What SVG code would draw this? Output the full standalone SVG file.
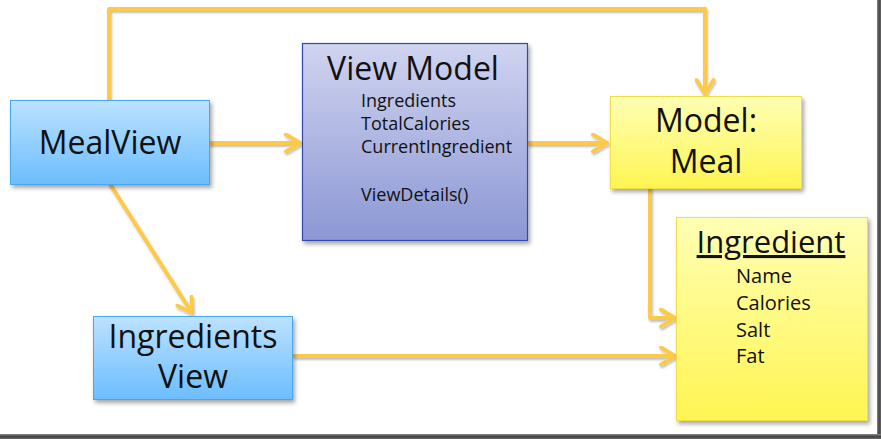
<svg xmlns="http://www.w3.org/2000/svg" width="881" height="439" viewBox="0 0 881 439">
<defs>
<linearGradient id="gBlue" x1="0" y1="0" x2="0" y2="1"><stop offset="0" stop-color="#BCE2FE"/><stop offset="1" stop-color="#6CBDFE"/></linearGradient>
<linearGradient id="gPurple" x1="0" y1="0" x2="0" y2="1"><stop offset="0" stop-color="#D0D4F0"/><stop offset="1" stop-color="#8C97D4"/></linearGradient>
<linearGradient id="gYellow" x1="0" y1="0" x2="0" y2="1"><stop offset="0" stop-color="#FFFFB4"/><stop offset="1" stop-color="#FFF552"/></linearGradient>
<linearGradient id="gFrameR" x1="0" y1="0" x2="1" y2="0"><stop offset="0" stop-color="#8a8a8a"/><stop offset="0.5" stop-color="#444"/><stop offset="1" stop-color="#666"/></linearGradient>
<linearGradient id="gFrameB" x1="0" y1="0" x2="0" y2="1"><stop offset="0" stop-color="#8a8a8a"/><stop offset="0.5" stop-color="#444"/><stop offset="1" stop-color="#666"/></linearGradient>
<filter id="sh" x="-10%" y="-10%" width="130%" height="130%"><feDropShadow dx="2" dy="3" stdDeviation="2" flood-color="#000" flood-opacity="0.35"/></filter>
<filter id="lsh" x="-10%" y="-10%" width="130%" height="130%"><feDropShadow dx="1" dy="2" stdDeviation="1.2" flood-color="#000" flood-opacity="0.25"/></filter>
<marker id="arr" viewBox="0 0 20 20" refX="17" refY="10" markerWidth="20" markerHeight="20" markerUnits="userSpaceOnUse" orient="auto">
<path d="M3,1.5 L17,10 L3,18.5" fill="none" stroke="#FDC94A" stroke-width="4" stroke-linecap="round" stroke-linejoin="round"/>
</marker>
</defs>
<style>
.conn{fill:none;stroke:#FDC94A;stroke-width:4;stroke-linejoin:round;marker-end:url(#arr)}
text{font-family:"Open Sans","Noto Sans","DejaVu Sans",sans-serif;fill:#111}
.big{font-size:32px;text-anchor:middle}
.item{font-size:18px}
.iitem{font-size:20px}
</style>
<rect x="0" y="0" width="881" height="439" fill="#fff"/>
<rect x="877" y="0" width="4" height="439" fill="url(#gFrameR)"/>
<rect x="0" y="434" width="881" height="5" fill="url(#gFrameB)"/>

<g id="connectors" filter="url(#lsh)">
<path class="conn" d="M109,100 V9 H705 V94"/>
<path class="conn" d="M209,143 H300"/>
<path class="conn" d="M527,143 H607"/>
<path class="conn" d="M110,184 L192,313"/>
<path class="conn" d="M293,356 H675"/>
<path class="conn" d="M650,188 V318 H675"/>
</g>

<g id="mealview">
<rect x="10.5" y="100.5" width="199" height="84" fill="url(#gBlue)" stroke="#45A8F2" stroke-width="1" filter="url(#sh)"/>
<text class="big" x="110" y="154">MealView</text>
</g>

<g id="viewmodel">
<rect x="302.5" y="43.5" width="225" height="197" fill="url(#gPurple)" stroke="#3547B0" stroke-width="1.2" filter="url(#sh)"/>
<text class="big" x="413" y="80">View Model</text>
<text class="item" x="361" y="106.5">Ingredients</text>
<text class="item" x="361" y="129.5">TotalCalories</text>
<text class="item" x="361" y="153">CurrentIngredient</text>
<text class="item" x="361" y="200.5">ViewDetails()</text>
</g>

<g id="model">
<rect x="610.5" y="96.5" width="191" height="92" fill="url(#gYellow)" stroke="#F3DF45" stroke-width="1" filter="url(#sh)"/>
<text class="big" x="706" y="131.5">Model:</text>
<text class="big" x="706" y="172.5">Meal</text>
</g>

<g id="ingredient">
<rect x="676.5" y="217.5" width="191" height="203" fill="url(#gYellow)" stroke="#F3DF45" stroke-width="1" filter="url(#sh)"/>
<text class="big" x="771" y="253" style="font-size:31px" text-decoration="underline">Ingredient</text>
<text class="iitem" x="736" y="283">Name</text>
<text class="iitem" x="736" y="310">Calories</text>
<text class="iitem" x="736" y="336.5">Salt</text>
<text class="iitem" x="736" y="363">Fat</text>
</g>

<g id="ingredientsview">
<rect x="93.5" y="316.5" width="199" height="83" fill="url(#gBlue)" stroke="#45A8F2" stroke-width="1" filter="url(#sh)"/>
<text class="big" x="193" y="348">Ingredients</text>
<text class="big" x="193" y="388">View</text>
</g>
</svg>
